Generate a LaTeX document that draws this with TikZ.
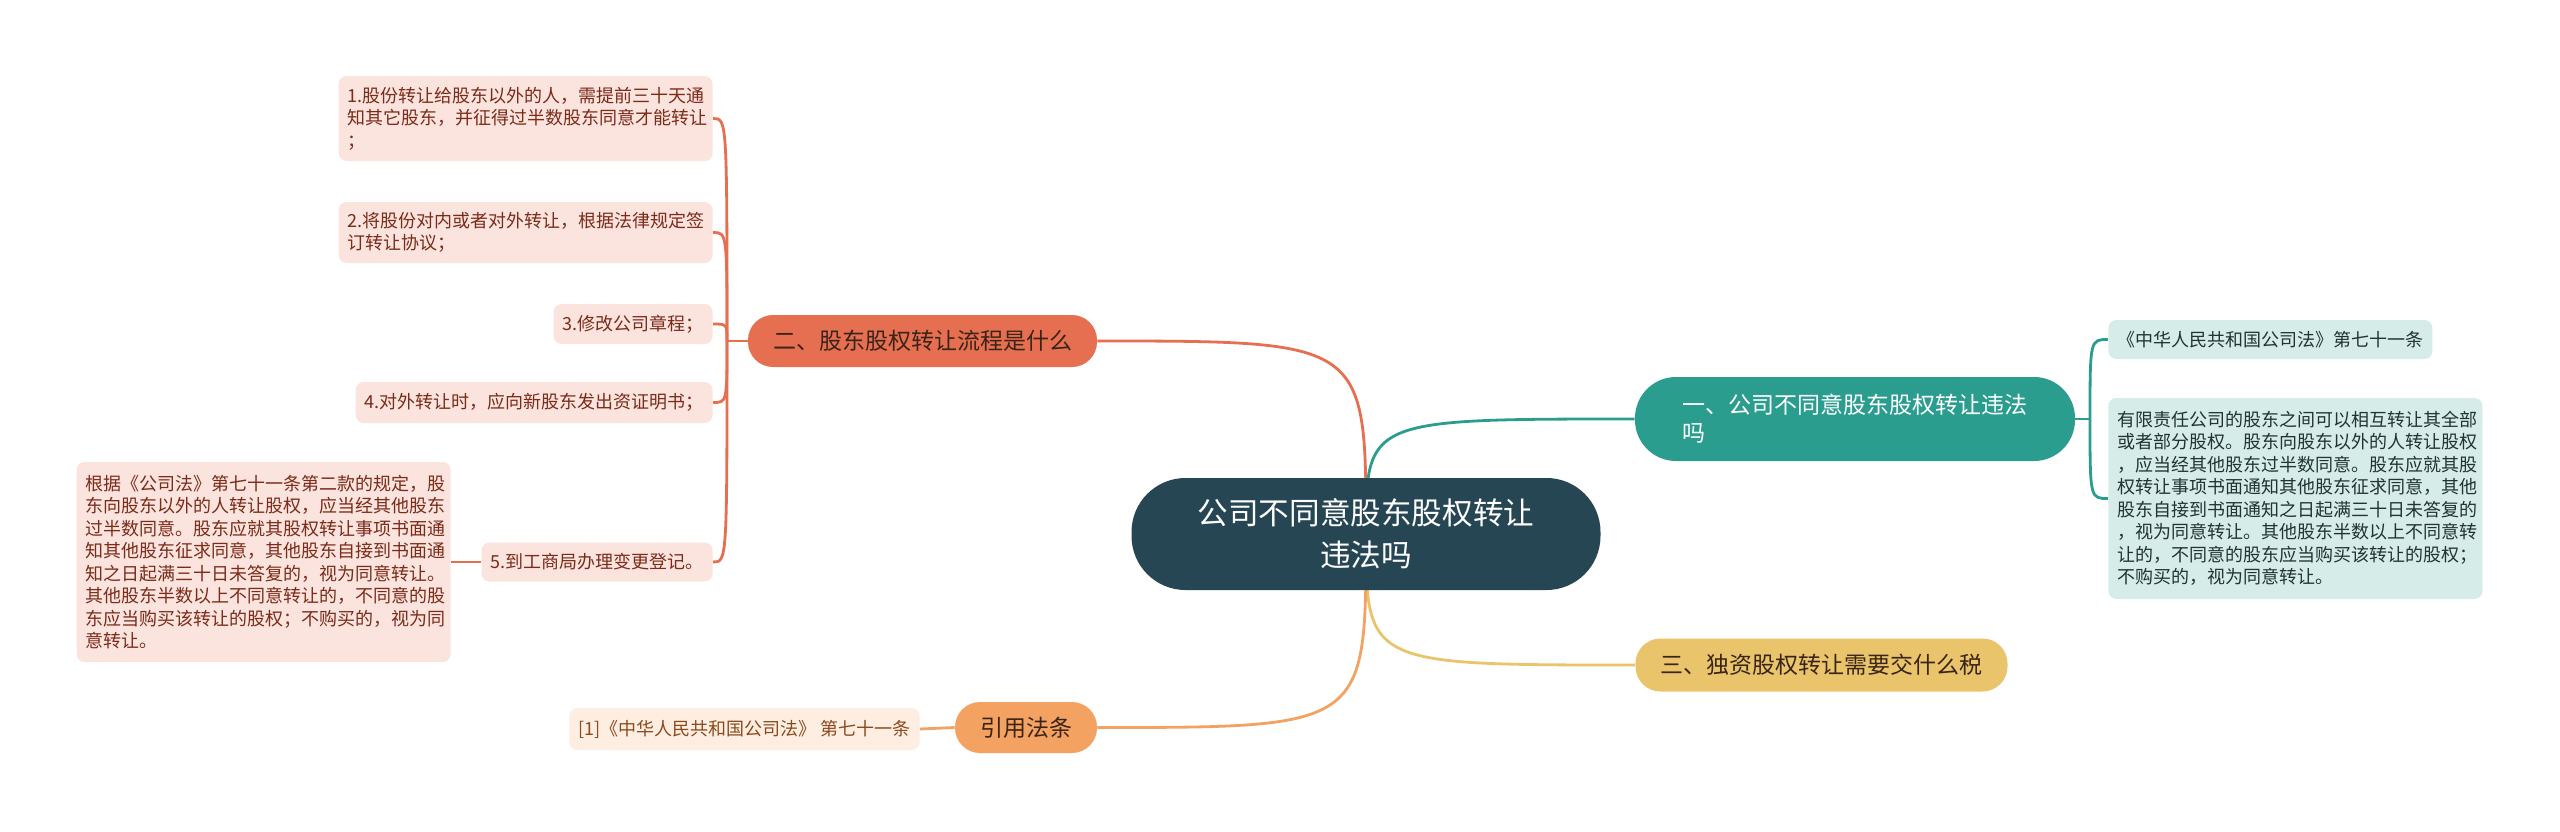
\documentclass[tikz,border=0pt]{standalone}
\usepackage{fontspec}
\setmainfont{Noto Sans CJK SC}
\usetikzlibrary{backgrounds}

\definecolor{rootblue}{HTML}{264653}
\definecolor{tealc}{HTML}{2A9D8F}
\definecolor{goldc}{HTML}{E9C46A}
\definecolor{peachc}{HTML}{F4A261}
\definecolor{coralc}{HTML}{E76F51}
\definecolor{coralleaf}{HTML}{FBE4DD}
\definecolor{tealleaf}{HTML}{D5ECE9}
\definecolor{peachleaf}{HTML}{FDEEE1}
\definecolor{coraltext}{HTML}{7A2B1A}
\definecolor{tealtext}{HTML}{23332F}
\definecolor{peachtext}{HTML}{8A4A1E}
\definecolor{darktext}{HTML}{3A2418}

\begin{document}
\begin{tikzpicture}[x=0.5pt, y=-0.5pt,
    root/.style={rectangle, fill=rootblue, text=white, rounded corners=27pt, align=center,
        font=\fontsize{15.3}{20.8}\selectfont},
    branch/.style={rectangle, rounded corners=12.5pt, text=darktext, align=left,
        font=\fontsize{11.5}{14}\selectfont},
    leaf/.style={rectangle, rounded corners=4pt, inner xsep=4.5pt, align=left,
        font=\fontsize{9}{11.25}\selectfont},
    link/.style={line width=1.4pt}
]
    \useasboundingbox (0,0) rectangle (2560,831);

    \node[root, minimum width=234.5pt, minimum height=56pt] (root) at (1366,534) {公司不同意股东股权转让\\违法吗};

    \node[branch, fill=tealc, text=white, rounded corners=20.5pt, minimum width=220pt, minimum height=42pt] (law) at (1855,419) {一、公司不同意股东股权转让违法\\吗};
    \node[branch, fill=coralc, minimum width=174.5pt, minimum height=26pt] (steps) at (922.5,341) {二、股东股权转让流程是什么};
    \node[branch, fill=goldc, minimum width=186pt, minimum height=26.5pt] (tax) at (1821.5,665) {三、独资股权转让需要交什么税};
    \node[branch, fill=peachc, minimum width=71pt, minimum height=25.5pt] (cite) at (1026,727.5) {引用法条};

    \node[leaf, fill=tealleaf, text=tealtext, anchor=west, minimum width=160pt, minimum height=19.5pt] (t1) at (2108,339.5) {《中华人民共和国公司法》第七十一条};
    \node[leaf, fill=tealleaf, text=tealtext, anchor=west, text width=178pt, minimum height=100.5pt] (t2) at (2108,498.5) {有限责任公司的股东之间可以相互转让其全部\\或者部分股权。股东向股东以外的人转让股权\\，应当经其他股东过半数同意。股东应就其股\\权转让事项书面通知其他股东征求同意，其他\\股东自接到书面通知之日起满三十日未答复的\\，视为同意转让。其他股东半数以上不同意转\\让的，不同意的股东应当购买该转让的股权；\\不购买的，视为同意转让。};

    \node[leaf, fill=coralleaf, text=coraltext, anchor=east, text width=178pt, minimum height=42.5pt] (s1) at (713,118.5) {1.股份转让给股东以外的人，需提前三十天通\\知其它股东，并征得过半数股东同意才能转让\\；};
    \node[leaf, fill=coralleaf, text=coraltext, anchor=east, text width=178pt, minimum height=30.5pt] (s2) at (713,232.5) {2.将股份对内或者对外转让，根据法律规定签\\订转让协议；};
    \node[leaf, fill=coralleaf, text=coraltext, anchor=east, minimum width=77.5pt, minimum height=20pt] (s3) at (713,324) {3.修改公司章程；};
    \node[leaf, fill=coralleaf, text=coraltext, anchor=east, minimum width=175.5pt, minimum height=20.5pt] (s4) at (713,402.5) {4.对外转让时，应向新股东发出资证明书；};
    \node[leaf, fill=coralleaf, text=coraltext, anchor=east, minimum width=114pt, minimum height=19.5pt] (s5) at (713,562) {5.到工商局办理变更登记。};
    \node[leaf, fill=coralleaf, text=coraltext, anchor=east, text width=178pt, minimum height=100pt] (s5d) at (451,562) {根据《公司法》第七十一条第二款的规定，股\\东向股东以外的人转让股权，应当经其他股东\\过半数同意。股东应就其股权转让事项书面通\\知其他股东征求同意，其他股东自接到书面通\\知之日起满三十日未答复的，视为同意转让。\\其他股东半数以上不同意转让的，不同意的股\\东应当购买该转让的股权；不购买的，视为同\\意转让。};

    \node[leaf, fill=peachleaf, text=peachtext, anchor=east, minimum width=174pt, minimum height=21pt] (c1) at (920,729) {[1]《中华人民共和国公司法》 第七十一条};

    \coordinate (sfork) at (727,341);
    \coordinate (tfork) at (2090,419);

    \begin{scope}[on background layer]
        \fill[white] (0,0) rectangle (2560,831);
        \draw[link, tealc] (root.center) .. controls (root.center |- law.west) .. (law.west);
        \draw[link, coralc] (root.center) .. controls (root.center |- steps.east) .. (steps.east);
        \draw[link, goldc] (root.center) .. controls (root.center |- tax.west) .. (tax.west);
        \draw[link, peachc] (root.center) .. controls (root.center |- cite.east) .. (cite.east);

        \draw[link, tealc] (law.east) -- (tfork);
        \foreach \n in {t1,t2}
            \draw[link, tealc] (tfork) .. controls (tfork |- \n.west) .. (\n.west);

        \draw[link, coralc] (steps.west) -- (sfork);
        \foreach \n in {s1,s2,s3,s4,s5}
            \draw[link, coralc] (sfork) .. controls (sfork |- \n.east) .. (\n.east);
        \draw[link, coralc] (s5.west) -- (s5d.east);

        \draw[link, peachc] (cite.west) -- (c1.east);
    \end{scope}
\end{tikzpicture}
\end{document}
